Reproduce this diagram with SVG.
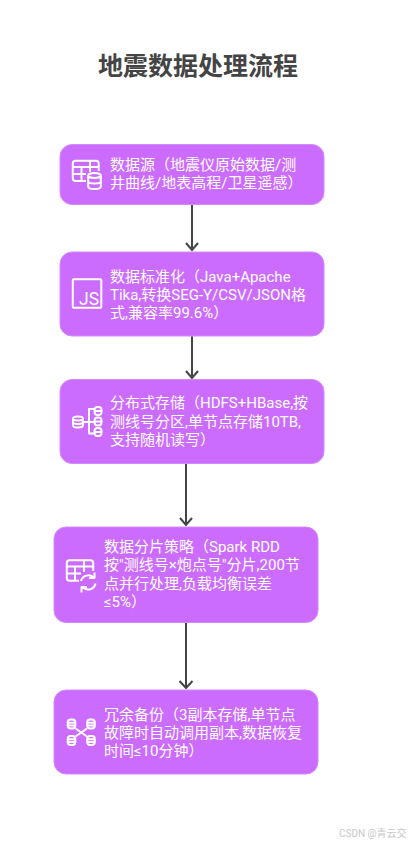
<svg xmlns="http://www.w3.org/2000/svg" width="409" height="845" viewBox="0 0 409 845">
<style>
.box{fill:#cc6cff;stroke:#d48aff;stroke-width:1}
.t{font:15px Roboto,"Noto Sans CJK SC",sans-serif;fill:#fff}
.title{font:bold 25px "Noto Sans CJK SC",sans-serif;fill:#444}
.wm{font:10px Roboto,"Noto Sans CJK SC",sans-serif;fill:#c8c8c8}
.c{fill:none;stroke:#444;stroke-width:2}
.i{fill:none;stroke:#fff;stroke-width:2;stroke-linejoin:round}
</style>
<defs>
<g id="db"><ellipse cx="0" cy="-5.500" rx="6.300" ry="2.500"/><path d="M-6.300-5.500V5.500C-6.300 7-3.500 8 0 8S6.300 7 6.300 5.500V-5.500M-6.300 0C-6.300 1.500-3.500 2.500 0 2.500S6.300 1.500 6.300 0"/></g>
<g id="db3"><ellipse cx="0" cy="-3.500" rx="5" ry="2"/><path d="M-5-3.500V3.500C-5 4.800-2.800 5.600 0 5.600S5 4.800 5 3.500V-3.500M-5 0C-5 1.200-2.800 2 0 2S5 1.200 5 0"/></g>
<g id="mini"><rect x="-3.500" y="-4" width="7" height="8" rx="3"/><path d="M-3.500 0H3.500"/></g>
<g id="db5"><rect x="-3.800" y="-4.500" width="7.600" height="9" rx="3"/><path d="M-3.800-1.300H3.800M-3.800 1.500H3.800"/></g>
</defs>
<rect width="409" height="845" fill="#fff"/>
<text class="title" x="198" y="75" text-anchor="middle">地震数据处理流程</text>
<g id="connectors">
<path class="c" d="M192 204V250M186 243L192 250L198 243"/>
<path class="c" d="M192 336V378M186 371L192 378L198 371"/>
<path class="c" d="M186 463V525M180 518L186 525L192 518"/>
<path class="c" d="M186 622V688M179.500 681L186 688L192.500 681"/>
</g>
<g id="node1">
<rect class="box" x="60" y="144.500" width="264" height="60" rx="12"/>
<g class="i"><path d="M86 181H75.500Q72.800 181 72.800 178.300V163.500Q72.800 160.800 75.500 160.800H96Q98.700 160.800 98.700 163.500V171M72.800 167H98.700M72.800 174H86M81.500 167V181M90 160.800V172"/><use href="#db" x="94.500" y="181"/></g>
<text class="t" x="110" y="170">数据源（地震仪原始数据/测</text>
<text class="t" x="110" y="188">井曲线/地表高程/卫星遥感）</text>
</g>
<g id="node2">
<rect class="box" x="60" y="252" width="264" height="84" rx="12"/>
<g class="i"><rect x="72.800" y="279.300" width="28.500" height="28.500" rx="1"/></g>
<text x="79" y="305" style="font:400 17.500px Roboto,sans-serif;fill:#fff">JS</text>
<text class="t" x="110" y="282">数据标准化（Java+Apache</text>
<text class="t" x="110" y="300">Tika,转换SEG-Y/CSV/JSON格</text>
<text class="t" x="110" y="318">式,兼容率99.6%）</text>
</g>
<g id="node3">
<rect class="box" x="60" y="379.500" width="264" height="84" rx="12"/>
<g class="i"><use href="#db3" x="78" y="422"/><path d="M84 422H94M94 409H89V433.500H94"/><use href="#mini" x="98" y="411"/><use href="#mini" x="98" y="421.500"/><use href="#mini" x="98" y="432"/></g>
<text class="t" x="110" y="408">分布式存储（HDFS+HBase,按</text>
<text class="t" x="110" y="427">测线号分区,单节点存储10TB,</text>
<text class="t" x="110" y="445">支持随机读写）</text>
</g>
<g id="node4">
<rect class="box" x="54" y="527" width="264" height="95.500" rx="12"/>
<g class="i"><path d="M79 580.800H69.500Q66.800 580.800 66.800 578V563Q66.800 560.300 69.500 560.300H90.500Q93.200 560.300 93.200 563V571M66.800 566.500H93.200M66.800 573.500H81M75 566.500V580.800M84 560.300V572"/><path d="M81 581A7.500 7.500 0 0 1 93.500 577.500M95.500 583.500A7.500 7.500 0 0 1 83 587.500M94.500 572.500V578H89M81.500 592.500V587H87"/></g>
<text class="t" x="104" y="552">数据分片策略（Spark RDD</text>
<text class="t" x="104" y="570">按"测线号×炮点号"分片,200节</text>
<text class="t" x="104" y="589">点并行处理,负载均衡误差</text>
<text class="t" x="104" y="607">≤5%）</text>
</g>
<g id="node5">
<rect class="box" x="54" y="690" width="264" height="84" rx="12"/>
<g class="i"><use href="#db5" x="71.500" y="724"/><use href="#db5" x="91" y="724"/><use href="#db5" x="71.500" y="740.500"/><use href="#db5" x="91" y="740.500"/><path d="M75.500 728.500L87 736.500M87 728.500L75.500 736.500"/></g>
<text class="t" x="104" y="720">冗余备份（3副本存储,单节点</text>
<text class="t" x="104" y="738">故障时自动调用副本,数据恢复</text>
<text class="t" x="104" y="756">时间≤10分钟）</text>
</g>
<text class="wm" x="339" y="837">CSDN @青云交</text>
</svg>
